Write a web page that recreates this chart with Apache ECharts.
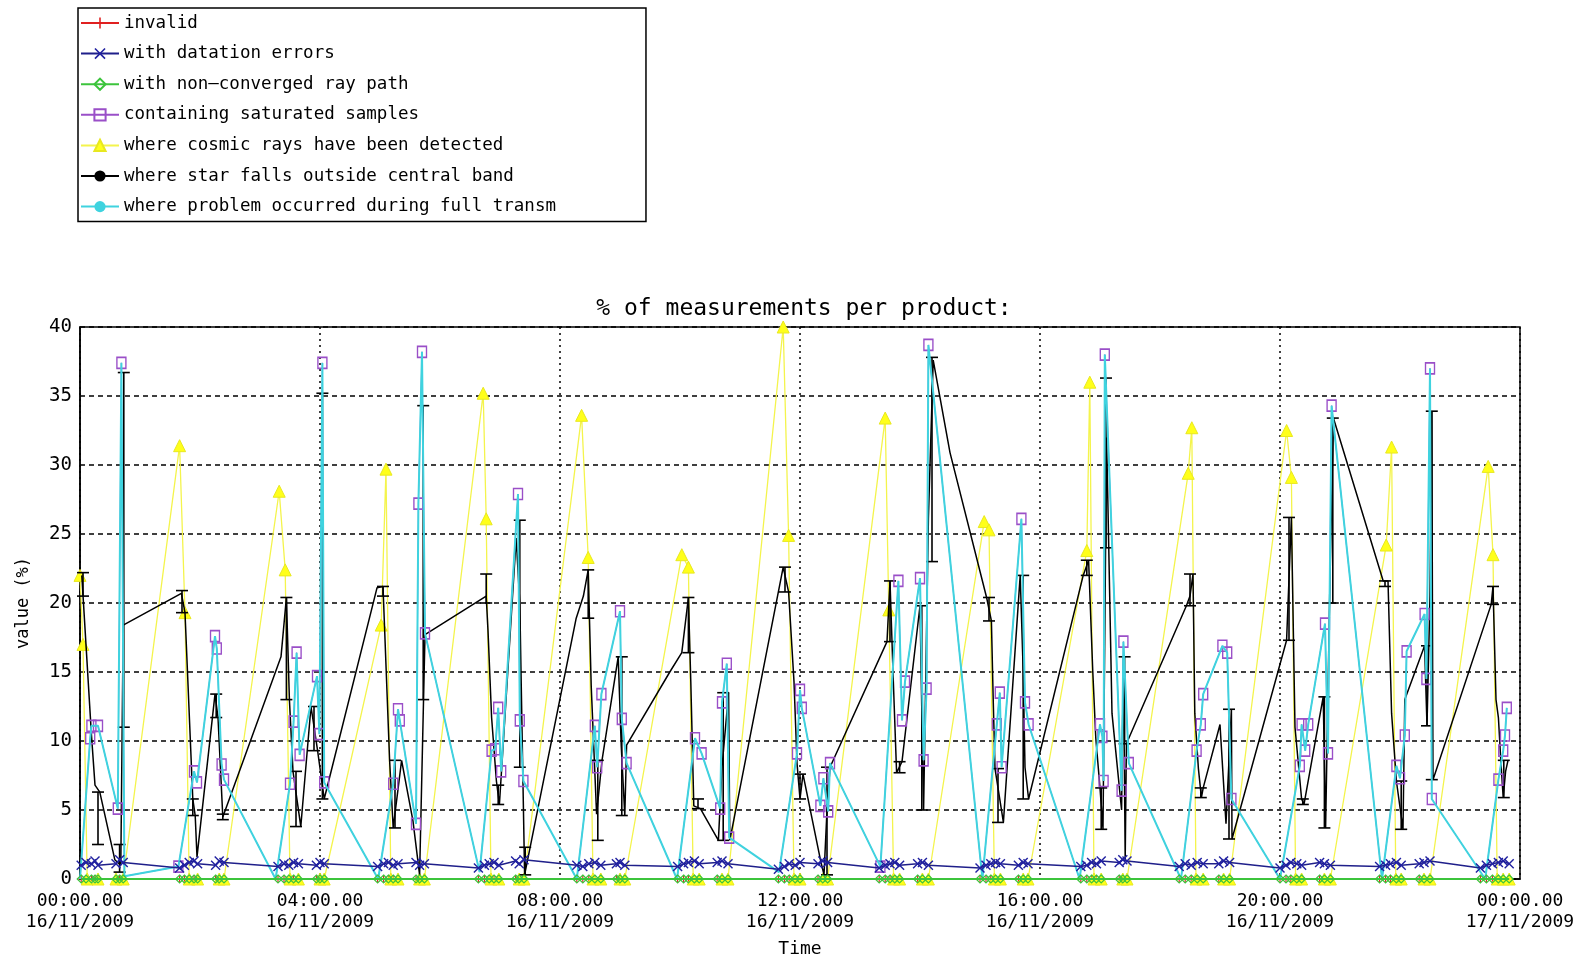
<!DOCTYPE html>
<html>
<head>
<meta charset="utf-8">
<script src="https://cdn.jsdelivr.net/npm/echarts@6/dist/echarts.min.js"></script>
<style>html,body{margin:0;padding:0;background:#fff;}#chart{width:1588px;height:965px;}</style>
</head>
<body>
<div id="chart"></div>
<script>
// ---- tick labels ----
const xTickHours = [0, 4, 8, 12, 16, 20, 24];
const dayLabels = ['16/11/2009', '17/11/2009'];
const yTicks = [0, 5, 10, 15, 20, 25, 30, 35, 40];

// ---- sample times (hours after 00:00 16/11/2009) ----
const sampleHours = [
  0.02,0.10,0.19,0.25,0.30, 0.60,0.66,0.72,
  1.66,1.74,1.82,1.90,1.96, 2.26,2.32,2.40,
  3.30,3.40,3.48,3.56,3.64, 3.94,4.00,4.07,
  4.96,5.06,5.14,5.22,5.30, 5.60,5.66,5.74,
  6.64,6.74,6.82,6.90,6.98, 7.26,7.32,7.40,
  8.28,8.38,8.48,8.58,8.68, 8.94,9.00,9.08,
  9.96,10.06,10.14,10.24,10.32, 10.62,10.70,10.80,
  11.64,11.74,11.82,11.92,12.00, 12.30,12.38,12.46,
  13.32,13.42,13.50,13.58,13.66, 13.96,14.04,14.14,
  15.00,15.10,15.18,15.26,15.34, 15.64,15.72,15.80,
  16.68,16.78,16.86,16.94,17.02, 17.32,17.38,17.45,
  18.32,18.42,18.52,18.62,18.72, 18.98,19.06,19.16,
  20.00,20.10,20.18,20.28,20.36, 20.66,20.74,20.84,
  21.66,21.76,21.84,21.94,22.02, 22.32,22.40,22.50,
  23.34,23.44,23.54,23.64,23.72,23.82
];

// ---- series values ----
const invalidValues = [
  0,0,0,0,0, 0,0,0,  0,0,0,0,0, 0,0,0,  0,0,0,0,0, 0,0,0,  0,0,0,0,0, 0,0,0,
  0,0,0,0,0, 0,0,0,  0,0,0,0,0, 0,0,0,  0,0,0,0,0, 0,0,0,  0,0,0,0,0, 0,0,0,
  0,0,0,0,0, 0,0,0,  0,0,0,0,0, 0,0,0,  0,0,0,0,0, 0,0,0,  0,0,0,0,0, 0,0,0,
  0,0,0,0,0, 0,0,0,  0,0,0,0,0, 0,0,0,  0,0,0,0,0,0
];
const datationValues = [
  1.0,1.2,1.1,1.3,1.0, 1.1,1.4,1.2,
  0.8,1.0,1.2,1.3,1.1, 1.0,1.3,1.2,
  0.9,1.1,1.0,1.2,1.1, 1.0,1.2,1.1,
  0.9,1.1,1.2,1.0,1.1, 1.2,1.0,1.1,
  0.8,1.0,1.1,1.2,1.0, 1.3,1.1,1.4,
  1.0,0.9,1.1,1.2,1.0, 1.1,1.2,1.0,
  0.9,1.1,1.2,1.3,1.1, 1.2,1.3,1.1,
  0.7,0.9,1.1,1.0,1.2, 1.1,1.3,1.2,
  0.8,1.0,1.1,1.2,1.0, 1.1,1.2,1.0,
  0.8,1.0,1.1,1.2,1.1, 1.0,1.2,1.1,
  0.9,1.0,1.2,1.1,1.3, 1.2,1.4,1.3,
  0.9,1.1,1.0,1.2,1.1, 1.1,1.3,1.2,
  0.8,1.0,1.2,1.1,1.0, 1.2,1.1,1.0,
  0.9,1.0,1.1,1.2,1.0, 1.1,1.2,1.3,
  0.8,1.0,1.1,1.2,1.3,1.1
];
const nonConvergedValues = [
  0,0,0,0,0, 0,0,0,  0,0,0,0,0, 0,0,0,  0,0,0,0,0, 0,0,0,  0,0,0,0,0, 0,0,0,
  0,0,0,0,0, 0,0,0,  0,0,0,0,0, 0,0,0,  0,0,0,0,0, 0,0,0,  0,0,0,0,0, 0,0,0,
  0,0,0,0,0, 0,0,0,  0,0,0,0,0, 0,0,0,  0,0,0,0,0, 0,0,0,  0,0,0,0,0, 0,0,0,
  0,0,0,0,0, 0,0,0,  0,0,0,0,0, 0,0,0,  0,0,0,0,0,0
];

// containing saturated samples / problem during full transmission  [hour, %]
const saturatedData = [
  [0.00,0],[0.17,10.2],[0.19,11.1],[0.30,11.1],[0.63,5.1],[0.69,37.4],[0.74,0.2],
  [1.64,0.9],[1.90,7.8],[1.95,7.0],[2.25,17.6],[2.28,16.7],[2.36,8.3],[2.40,7.2],
  [3.26,0],[3.50,6.9],[3.56,11.4],[3.61,16.4],[3.66,9.0],[3.95,14.7],[3.99,10.5],[4.04,37.4],[4.07,7.0],
  [4.97,0],[5.22,6.9],[5.30,12.3],[5.33,11.5],[5.60,4.0],[5.64,27.2],[5.70,38.2],[5.75,17.8],
  [6.66,0.5],[6.86,9.3],[6.92,9.4],[6.97,12.4],[7.02,7.8],[7.30,27.9],[7.33,11.5],[7.39,7.1],
  [8.28,0],[8.58,11.1],[8.62,8.1],[8.69,13.4],[9.00,19.4],[9.03,11.6],[9.11,8.4],
  [9.95,0],[10.25,10.2],[10.36,9.1],[10.67,5.1],[10.70,12.8],[10.78,15.6],[10.82,3.0],
  [11.65,0.5],[11.95,9.1],[12.00,13.7],[12.03,12.4],[12.34,5.3],[12.39,7.3],[12.47,4.9],[12.50,8.4],
  [13.34,0.9],[13.64,21.6],[13.70,11.5],[13.75,14.3],[14.00,21.8],[14.06,8.6],[14.11,13.8],[14.14,38.7],
  [15.04,0],[15.28,11.2],[15.33,13.5],[15.36,8.1],[15.69,26.1],[15.75,12.8],[15.81,11.2],
  [16.66,0],[17.00,11.2],[17.04,10.3],[17.06,7.1],[17.08,38.0],[17.36,6.4],[17.39,17.2],[17.48,8.4],
  [18.35,0],[18.61,9.3],[18.68,11.2],[18.72,13.4],[19.04,16.9],[19.12,16.4],[19.19,5.8],
  [20.00,0],[20.33,8.2],[20.36,11.2],[20.42,9.3],[20.47,11.2],[20.75,18.5],[20.80,9.1],[20.86,34.3],
  [21.70,0],[21.94,8.2],[22.00,7.3],[22.08,10.4],[22.11,16.5],[22.41,19.2],[22.44,14.5],[22.50,37.0],[22.53,5.8],
  [23.42,0],[23.64,7.2],[23.72,9.3],[23.75,10.4],[23.78,12.4]
];
const problemData = saturatedData;

// where cosmic rays have been detected
const cosmicData = [
  [0.00,22.0],[0.05,17.0],[0.12,0],[0.30,0],[0.60,0],[0.72,0],
  [1.66,31.4],[1.75,19.3],[1.82,0],[1.96,0],[2.32,0],[2.40,0],
  [3.32,28.1],[3.42,22.4],[3.50,0],[3.64,0],[4.00,0],[4.07,0],
  [5.02,18.4],[5.10,29.7],[5.18,0],[5.30,0],[5.66,0],[5.74,0],
  [6.72,35.2],[6.77,26.1],[6.85,0],[6.98,0],[7.32,0],[7.40,0],
  [8.36,33.6],[8.47,23.3],[8.55,0],[8.68,0],[9.00,0],[9.08,0],
  [10.03,23.5],[10.14,22.6],[10.22,0],[10.32,0],[10.70,0],[10.80,0],
  [11.72,40.0],[11.81,24.9],[11.90,0],[12.00,0],[12.38,0],[12.46,0],
  [13.42,33.4],[13.48,19.5],[13.56,0],[13.66,0],[14.04,0],[14.14,0],
  [15.07,25.9],[15.15,25.3],[15.24,0],[15.34,0],[15.72,0],[15.80,0],
  [16.78,23.8],[16.83,36.0],[16.90,0],[17.02,0],[17.38,0],[17.45,0],
  [18.47,29.4],[18.53,32.7],[18.60,0],[18.72,0],[19.06,0],[19.16,0],
  [20.11,32.5],[20.19,29.1],[20.26,0],[20.36,0],[20.74,0],[20.84,0],
  [21.77,24.2],[21.86,31.3],[21.93,0],[22.02,0],[22.40,0],[22.50,0],
  [23.47,29.9],[23.55,23.5],[23.62,0],[23.72,0],[23.82,0]
];

// where star falls outside central band
const starData = [
  [0.03,22.0],[0.19,10.5],[0.25,6.8],[0.33,6.3],[0.58,1.4],[0.68,1.0],[0.72,18.4],
  [1.69,20.7],[1.75,19.3],[1.88,5.8],[1.92,4.6],[1.95,1.6],[2.25,13.4],[2.30,11.7],[2.38,4.5],
  [3.35,16.1],[3.44,20.4],[3.49,13.0],[3.55,7.8],[3.68,3.8],[3.85,12.5],[3.96,9.3],[4.07,5.8],
  [4.95,21.1],[5.05,21.2],[5.16,8.6],[5.22,3.7],[5.30,6.5],[5.36,8.6],[5.55,4.2],[5.66,0.3],[5.75,17.7],
  [6.77,20.5],[6.80,18.0],[6.86,11.7],[6.94,7.1],[6.99,5.4],[7.27,24.7],[7.33,20.0],[7.41,0.3],
  [8.27,18.9],[8.39,20.5],[8.47,22.4],[8.52,14.0],[8.61,4.7],[8.70,8.6],[8.97,16.1],[9.02,9.7],[9.08,4.6],[9.11,9.7],
  [9.83,15.0],[10.03,16.4],[10.14,20.4],[10.18,14.3],[10.23,5.3],[10.34,5.1],[10.64,2.8],[10.70,8.1],[10.81,13.5],[10.83,2.8],
  [11.72,22.6],[11.81,20.8],[11.90,14.3],[11.95,8.4],[12.00,5.8],[12.05,7.6],[12.34,1.4],[12.40,0.3],[12.45,5.0],[12.50,8.1],
  [13.45,17.2],[13.50,21.6],[13.55,15.0],[13.61,7.7],[13.70,8.5],[14.00,19.8],[14.04,9.7],[14.06,5.0],[14.14,26.1],[14.22,37.6],
  [14.50,30.9],[15.11,20.4],[15.19,18.7],[15.22,13.0],[15.25,8.0],[15.39,4.1],[15.67,22.0],[15.72,15.0],[15.75,8.1],[15.81,5.8],
  [16.72,22.0],[16.81,23.1],[16.88,15.0],[16.93,10.2],[17.00,6.6],[17.05,3.6],[17.11,32.0],[17.20,12.0],[17.36,5.0],[17.39,16.1],[17.42,1.4],[17.44,9.8],
  [18.44,19.8],[18.50,20.5],[18.55,22.1],[18.58,12.0],[18.64,8.0],[18.69,5.9],[18.72,6.6],[19.00,11.2],[19.10,4.0],[19.19,12.3],[19.20,2.9],
  [20.11,17.3],[20.19,26.2],[20.25,11.0],[20.36,5.8],[20.40,5.4],[20.72,13.2],[20.76,3.7],[20.83,21.0],[20.89,33.4],
  [21.72,21.6],[21.80,21.6],[21.86,12.0],[21.94,7.1],[22.05,3.6],[22.08,13.0],[22.41,16.9],[22.45,11.1],[22.50,20.5],[22.53,33.9],[22.55,7.2],
  [23.52,19.9],[23.55,21.2],[23.60,13.0],[23.64,11.7],[23.68,8.6],[23.72,5.9],[23.76,7.8],[23.80,8.6]
];
// error bars of the star series  [hour, low, high]
const starErrors = [
  [0.05,20.5,22.2],[0.30,2.5,6.3],[0.66,0.5,2.5],[0.73,11.0,36.7],
  [1.70,19.3,20.9],[1.88,4.6,5.8],[2.27,11.7,13.4],[2.38,4.3,4.7],
  [3.44,13.0,20.4],[3.60,3.8,7.8],[3.90,9.3,12.5],[4.04,5.8,35.2],
  [5.05,20.5,21.2],[5.25,3.7,8.6],[5.72,13.0,34.3],
  [6.77,20.0,22.1],[6.97,5.4,6.8],[7.33,8.1,26.0],[7.42,0.3,2.3],
  [8.47,18.9,22.4],[8.63,2.8,8.6],[9.03,4.6,16.1],
  [10.14,16.4,20.4],[10.30,5.1,5.8],[10.72,2.8,13.5],
  [11.75,20.8,22.6],[12.00,5.8,7.6],[12.45,0.3,8.1],
  [13.50,17.2,21.6],[13.66,7.7,8.5],[14.03,5.0,19.8],[14.20,23.0,37.8],
  [15.15,18.7,20.4],[15.30,4.1,8.0],[15.72,5.8,22.0],
  [16.78,22.0,23.1],[17.02,3.6,6.6],[17.10,24.0,36.3],[17.41,9.8,16.1],
  [18.50,19.8,22.1],[18.68,5.9,6.6],[19.15,2.9,12.3],
  [20.15,17.3,26.2],[20.38,5.4,5.8],[20.74,3.7,13.2],[20.88,20.0,33.4],
  [21.75,21.2,21.6],[22.02,3.6,7.1],[22.45,11.1,16.9],[22.53,7.2,33.9],
  [23.55,19.9,21.2],[23.73,5.9,8.6]
];

const seriesNames = [
  'invalid',
  'with datation errors',
  'with non\u2013converged ray path',
  'containing saturated samples',
  'where cosmic rays have been detected',
  'where star falls outside central band',
  'where problem occurred during full transm'
];

// ---- build ----
const pair = (vals) => sampleHours.map((h, i) => [h, vals[i]]);
const FONT = 'DejaVu Sans Mono';
const crossPath = 'path://M0,1L1,0L5,4L9,0L10,1L6,5L10,9L9,10L5,6L1,10L0,9L4,5Z';
const plusPath = 'path://M4.3,0H5.7V4.3H10V5.7H5.7V10H4.3V5.7H0V4.3H4.3Z';

function hourLabel(h) {
  const hh = h % 24;
  const day = h >= 24 ? dayLabels[1] : dayLabels[0];
  return (hh < 10 ? '0' + hh : '' + hh) + ':00.00\n' + day;
}

const chart = echarts.init(document.getElementById('chart'), null, {renderer: 'canvas'});
chart.setOption({
  animation: false,
  backgroundColor: '#fff',
  title: {
    text: '% of measurements per product:',
    left: 799, top: 293, textAlign: 'center',
    textStyle: {fontFamily: FONT, fontSize: 23, fontWeight: 'normal', color: '#000'}
  },
  legend: {
    orient: 'vertical', left: 78, top: 8,
    itemWidth: 38, itemHeight: 14, itemGap: 12.6,
    padding: [6, 90, 6, 2],
    borderColor: '#000', borderWidth: 1.5,
    selectedMode: false,
    textStyle: {fontFamily: FONT, fontSize: 17.5, color: '#000'},
    data: seriesNames
  },
  grid: {left: 80, right: 68, top: 327, bottom: 86, show: true, borderColor: '#000', borderWidth: 1.5, backgroundColor: 'transparent'},
  xAxis: {
    type: 'value', min: 0, max: 24, interval: 4,
    name: 'Time', nameLocation: 'middle', nameGap: 61,
    nameTextStyle: {fontFamily: FONT, fontSize: 18, color: '#000'},
    axisLine: {show: true, lineStyle: {color: '#000', width: 1.5}},
    axisTick: {show: false},
    axisLabel: {formatter: hourLabel, margin: 12, fontFamily: FONT, fontSize: 18, lineHeight: 21, color: '#000'},
    splitLine: {show: true, lineStyle: {color: '#000', width: 1.5, type: [2, 4]}}
  },
  yAxis: {
    type: 'value', min: yTicks[0], max: yTicks[yTicks.length - 1], interval: 5,
    name: 'value (%)', nameLocation: 'middle', nameGap: 48, nameRotate: 90,
    nameTextStyle: {fontFamily: FONT, fontSize: 17, color: '#000'},
    axisLine: {show: true, lineStyle: {color: '#000', width: 1.5}},
    axisTick: {show: false},
    axisLabel: {margin: 8, fontFamily: FONT, fontSize: 19, color: '#000'},
    splitLine: {show: true, lineStyle: {color: '#000', width: 1.5, type: [5, 4]}}
  },
  series: [
    {
      name: seriesNames[0], type: 'line', z: 1, data: pair(invalidValues),
      symbol: plusPath, symbolSize: 8, showAllSymbol: true,
      lineStyle: {color: '#e02020', width: 1},
      itemStyle: {color: '#e02020'}
    },
    {
      name: seriesNames[4], type: 'line', z: 2, data: cosmicData,
      symbol: 'triangle', symbolSize: 12, showAllSymbol: true,
      lineStyle: {color: '#f4f44c', width: 1.3},
      itemStyle: {color: '#ffff1a', borderColor: '#e8e820', borderWidth: 1}
    },
    {
      name: seriesNames[5], type: 'line', z: 3, data: starData,
      symbol: 'none',
      lineStyle: {color: '#000', width: 1.5},
      itemStyle: {color: '#000'}
    },
    {
      name: 'starErr', type: 'custom', z: 3, data: starErrors,
      encode: {x: 0, y: [1, 2]},
      renderItem: function (params, api) {
        const x = api.value(0), lo = api.value(1), hi = api.value(2);
        const a = api.coord([x, lo]), b = api.coord([x, hi]);
        const w = 6, st = {stroke: '#000', lineWidth: 1.6};
        return {type: 'group', children: [
          {type: 'line', shape: {x1: a[0], y1: a[1], x2: b[0], y2: b[1]}, style: st},
          {type: 'line', shape: {x1: a[0] - w, y1: a[1], x2: a[0] + w, y2: a[1]}, style: st},
          {type: 'line', shape: {x1: b[0] - w, y1: b[1], x2: b[0] + w, y2: b[1]}, style: st}
        ]};
      }
    },
    {
      name: seriesNames[3], type: 'line', z: 4, data: saturatedData,
      symbol: 'rect', showAllSymbol: true,
      symbolSize: function (v) { return v[1] > 0.5 ? [9, 11] : 0; },
      lineStyle: {color: '#9a4fc8', width: 1},
      itemStyle: {color: 'rgba(255,255,255,0)', borderColor: '#9a4fc8', borderWidth: 1.5}
    },
    {
      name: seriesNames[6], type: 'line', z: 5, data: problemData,
      symbol: 'none',
      lineStyle: {color: '#3fd3df', width: 2},
      itemStyle: {color: '#3fd3df'}
    },
    {
      name: seriesNames[2], type: 'line', z: 6, data: pair(nonConvergedValues),
      symbol: 'diamond', symbolSize: 8, showAllSymbol: true,
      lineStyle: {color: '#3cc43c', width: 2},
      itemStyle: {color: 'rgba(255,255,255,0)', borderColor: '#3cc43c', borderWidth: 1.2}
    },
    {
      name: seriesNames[1], type: 'line', z: 7, data: pair(datationValues),
      symbol: crossPath, symbolSize: 10, showAllSymbol: true,
      lineStyle: {color: '#1f1f8a', width: 1.5},
      itemStyle: {color: '#2020a0'}
    }
  ]
});
</script>
</body>
</html>
